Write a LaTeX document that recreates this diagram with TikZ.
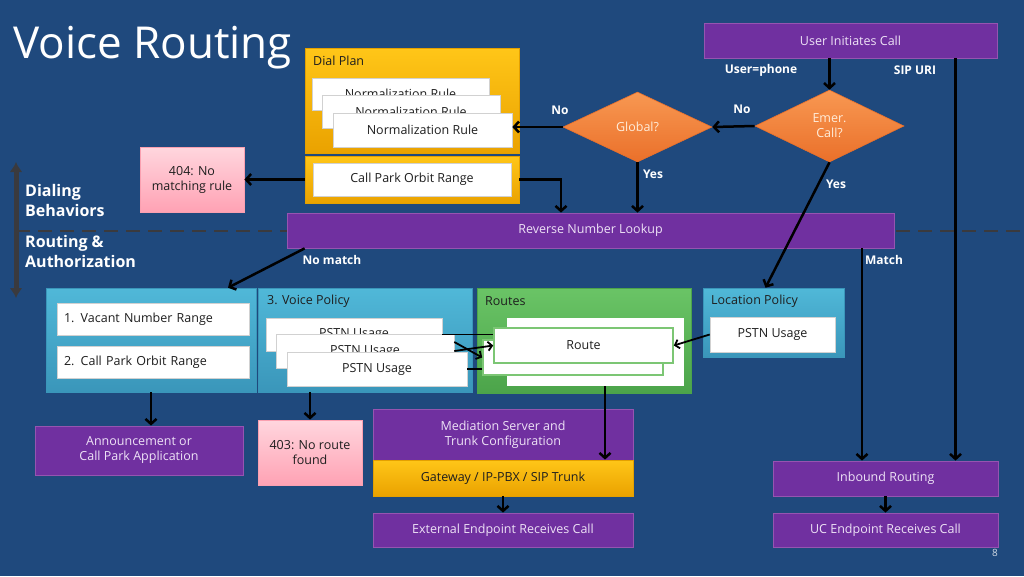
\documentclass[tikz,border=0pt]{standalone}
\usepackage{fontspec}
\setmainfont{Open Sans}
\usetikzlibrary{arrows.meta,shapes.geometric}

\definecolor{slidebg}{RGB}{31,73,125}
\definecolor{vpurple}{RGB}{112,48,160}
\definecolor{vpurpleedge}{RGB}{150,84,176}
\definecolor{vpurpletext}{RGB}{238,226,246}
\definecolor{goldtop}{RGB}{255,198,24}
\definecolor{goldbot}{RGB}{234,162,0}
\definecolor{goldedge}{RGB}{228,160,0}
\definecolor{cyantop}{RGB}{80,184,216}
\definecolor{cyanbot}{RGB}{58,150,186}
\definecolor{greentop}{RGB}{106,196,102}
\definecolor{greenbot}{RGB}{76,164,74}
\definecolor{routeedge}{RGB}{124,198,116}
\definecolor{pinktop}{RGB}{255,214,222}
\definecolor{pinkbot}{RGB}{255,162,180}
\definecolor{pinkedge}{RGB}{250,160,176}
\definecolor{orangetop}{RGB}{248,152,82}
\definecolor{orangebot}{RGB}{234,112,42}
\definecolor{axisgray}{RGB}{58,58,62}
\definecolor{darktext}{RGB}{30,30,30}

\tikzset{
  purplebox/.style={draw=vpurpleedge, line width=0.8pt, fill=vpurple, text=vpurpletext,
    font=\fontsize{12.5}{15}\selectfont, align=center, inner sep=0pt},
  goldbox/.style={draw=goldedge, line width=0.8pt, top color=goldtop, bottom color=goldbot,
    text=darktext, font=\fontsize{12.5}{15}\selectfont, align=center, inner sep=0pt},
  cyanbox/.style={draw=cyanbot, line width=0.6pt, top color=cyantop, bottom color=cyanbot, inner sep=0pt},
  greenbox/.style={draw=greenbot, line width=0.6pt, top color=greentop, bottom color=greenbot, inner sep=0pt},
  pinkbox/.style={draw=pinkedge, line width=0.8pt, top color=pinktop, bottom color=pinkbot,
    text=darktext, font=\fontsize{12.5}{15}\selectfont, align=center, inner sep=0pt},
  card/.style={draw=black!18, line width=0.6pt, fill=white, text=darktext,
    font=\fontsize{12.5}{15}\selectfont, align=center, inner sep=0pt},
  leftcard/.style={card, align=left, text width=178pt, inner xsep=7pt},
  routecard/.style={card, draw=routeedge, line width=1.6pt},
  decision/.style={diamond, aspect=2, inner sep=0pt, draw=orangebot, line width=0.6pt,
    top color=orangetop, bottom color=orangebot, text=orange!15,
    font=\fontsize{12.5}{15}\selectfont, align=center},
  grplbl/.style={anchor=west, inner sep=0pt, text=darktext, font=\fontsize{12.5}{15}\selectfont},
  lbl/.style={inner sep=0pt, text=white, font=\bfseries\fontsize{12}{14}\selectfont},
  phaselbl/.style={anchor=west, align=left, inner sep=0pt, text=white,
    font=\bfseries\fontsize{16}{20}\selectfont},
  flow/.style={line width=2.5pt, -{Straight Barb[length=5pt,width=11pt]}},
  thinflow/.style={line width=1.8pt, -{Straight Barb[length=4pt,width=9pt]}},
  phase/.style={axisgray, line width=2.5pt, dash pattern=on 14pt off 8pt},
  axis/.style={axisgray, line width=5pt, {Latex[length=10pt,width=13pt]}-{Latex[length=10pt,width=13pt]}}
}

\begin{document}
\begin{tikzpicture}[x=1pt,y=-1pt]
\fill[slidebg] (0,0) rectangle (1024,576);
\useasboundingbox (0,0) rectangle (1024,576);

\coordinate (dashL) at (16,231);
\coordinate (dashR) at (1024,231);
\draw[phase] (dashL) -- (dashR);
\coordinate (axtop) at (16,162);
\coordinate (axbot) at (16,298);
\draw[axis] (axtop) -- (axbot);

\node[anchor=base west, inner sep=0pt, text=white, font=\fontsize{44}{44}\selectfont] (title) at (13,58) {Voice Routing};
\node[phaselbl] (dialing) at (25,200) {Dialing\\Behaviors};
\node[phaselbl] (routing) at (25,251) {Routing \&\\Authorization};

\node[goldbox, minimum width=214pt, minimum height=105pt] (dialplan) at (412,100.5) {};
\node[grplbl] (dplbl) at (313,61) {Dial Plan};
\node[card, minimum width=177pt, minimum height=32pt] (nr1) at (400.5,94) {\raisebox{-3pt}{Normalization Rule}};
\node[card, minimum width=178pt, minimum height=33pt] (nr2) at (411,111.5) {\raisebox{-3pt}{Normalization Rule}};
\node[card, minimum width=179pt, minimum height=34pt] (nr3) at (422.5,130) {Normalization Rule};
\node[goldbox, minimum width=214pt, minimum height=47pt] (cpgold) at (412,179.5) {};
\node[card, minimum width=198pt, minimum height=33pt] (cpcard) at (412,179.5) {Call Park Orbit Range};
\node[pinkbox, minimum width=104pt, minimum height=65pt] (e404) at (192,179.5) {404: No\\matching rule};

\node[purplebox, minimum width=293pt, minimum height=35pt] (user) at (850.5,40.5) {User Initiates Call};
\node[decision, minimum width=149pt, minimum height=72pt] (emer) at (829.5,126) {Emer.\\Call?};
\node[decision, minimum width=149pt, minimum height=70pt] (global) at (637.5,127) {Global?};
\node[purplebox, minimum width=607pt, minimum height=35pt] (reverse) at (590.5,230.5) {Reverse Number Lookup};

\node[cyanbox, minimum width=210pt, minimum height=104pt] (grp) at (151,340) {};
\node[leftcard, minimum height=32pt] (vacant) at (153,319) {1. Vacant Number Range};
\node[leftcard, minimum height=32pt] (cporbit) at (153,362) {2. Call Park Orbit Range};

\node[cyanbox, minimum width=214pt, minimum height=104pt] (vp) at (365,340) {};
\node[grplbl] (vplbl) at (267,301) {3. Voice Policy};
\node[card, minimum width=176pt, minimum height=33pt] (p1) at (354,334.5) {\raisebox{-3pt}{PSTN Usage}};
\node[card, minimum width=178pt, minimum height=34pt] (p2) at (365,351) {\raisebox{-3pt}{PSTN Usage}};
\node[card, minimum width=180pt, minimum height=34pt] (p3) at (377,369) {PSTN Usage};

\node[greenbox, minimum width=214pt, minimum height=105pt] (routes) at (584,340.5) {};
\node[grplbl] (rtlbl) at (485,301) {Routes};
\node[card, draw=none, minimum width=177pt, minimum height=68pt] (routeback) at (595.5,352) {};
\draw[thinflow] (p1.east) -- (routeback.west |- p1.east);
\draw[thinflow] (p3.east) -- (routeback.west |- p3.east);
\node[routecard, minimum width=180pt, minimum height=35pt] (mid) at (573,357.5) {};
\node[routecard, minimum width=179pt, minimum height=35pt] (route) at (583.5,345.5) {Route};
\draw[thinflow] ([yshift=9pt]p2.east) -- (mid.west);
\draw[thinflow] (p2.east) -- (route.west);

\node[cyanbox, minimum width=141pt, minimum height=69pt] (locpol) at (773.5,322.5) {};
\node[grplbl] (lplbl) at (711,301) {Location Policy};
\node[card, minimum width=125pt, minimum height=35pt] (lpcard) at (772.5,334.5) {PSTN Usage};

\node[purplebox, minimum width=208pt, minimum height=49pt] (ann) at (139,450.5) {Announcement or\\Call Park Application};
\node[pinkbox, minimum width=104pt, minimum height=65pt] (e403) at (310,452.5) {403: No route\\found};
\node[purplebox, minimum width=260pt, minimum height=51pt] (mediation) at (503,434.5) {Mediation Server and\\Trunk Configuration};
\node[goldbox, minimum width=260pt, minimum height=36pt] (gateway) at (503,478) {Gateway / IP-PBX / SIP Trunk};
\node[purplebox, minimum width=260pt, minimum height=34pt] (external) at (503,530) {External Endpoint Receives Call};
\node[purplebox, minimum width=225pt, minimum height=35pt] (inbound) at (885.5,478.5) {Inbound Routing};
\node[purplebox, minimum width=225pt, minimum height=34pt] (uc) at (885.5,530) {UC Endpoint Receives Call};
\node[inner sep=0pt, text=white!80!slidebg, font=\fontsize{10}{12}\selectfont] (pagenum) at (995,553) {8};

\draw[flow] (user.south -| emer.north) -- (emer.north);
\draw[flow] ([xshift=105pt]user.south) -- ([xshift=105pt]user.south |- inbound.north);
\draw[flow] (emer.west) -- (global.east);
\draw[flow] (global.west) -- (global.west -| nr3.east);
\draw[flow] (global.south) -- (global.south |- reverse.north);
\draw[flow] (emer.south) -- ([xshift=-8pt]locpol.north);
\draw[flow] (cpgold.west) -- (e404.east);
\draw[flow] (cpgold.east) -| ([xshift=-29.5pt]reverse.north);
\draw[flow] ([xshift=18pt]reverse.south west) -- ([xshift=77pt]grp.north);
\draw[flow] ([xshift=-23.5pt]inbound.north |- reverse.south) -- ([xshift=-23.5pt]inbound.north);
\draw[thinflow] (lpcard.west) -- (route.east);
\draw[flow] ([xshift=9.5pt]routeback.south) -- ([xshift=9.5pt]routeback.south |- gateway.north);
\draw[flow] (grp.south) -- (grp.south |- ann.north);
\draw[flow] (e403.north |- vp.south) -- (e403.north);
\draw[flow] (gateway.south) -- (external.north);
\draw[flow] (inbound.south) -- (uc.north);

\node[lbl] (lphone) at (761,70) {User=phone};
\node[lbl] (lsip) at (915,70) {SIP URI};
\node[lbl] (lno1) at (742,109) {No};
\node[lbl] (lno2) at (560,110) {No};
\node[lbl] (lyes1) at (653,174) {Yes};
\node[lbl] (lyes2) at (836,184) {Yes};
\node[lbl] (lnomatch) at (332,260) {No match};
\node[lbl] (lmatch) at (884,260) {Match};
\end{tikzpicture}
\end{document}
